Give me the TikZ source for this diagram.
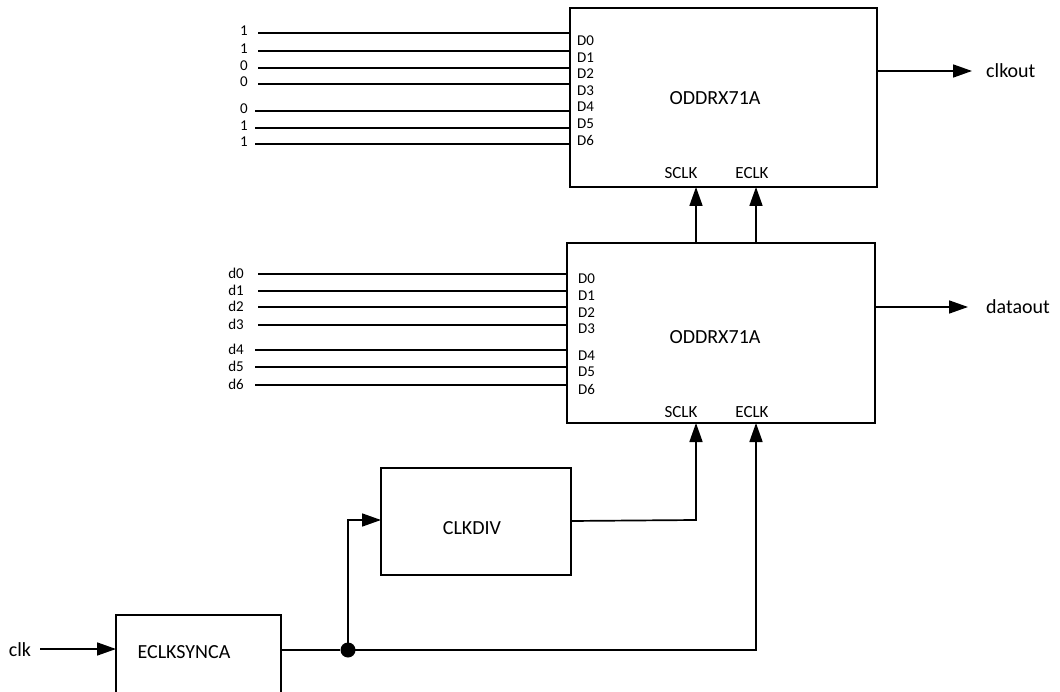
\documentclass[tikz,border=0pt]{standalone}
\usepackage{fontspec}
\setmainfont{Carlito}
\usetikzlibrary{arrows.meta}
\tikzset{
  blockbox/.style={draw, line width=1.5pt, inner sep=0pt, outer sep=0pt, anchor=north west},
  wire/.style={line width=1.7pt},
  arrowwire/.style={line width=1.7pt, -{Triangle[length=19pt,width=13pt]}},
  pinlbl/.style={font=\fontsize{15}{15}\selectfont, inner sep=0pt, anchor=west},
  inlbl/.style={font=\fontsize{15}{15}\selectfont, inner sep=0pt},
  biglbl/.style={font=\fontsize{20}{20}\selectfont, inner sep=0pt},
  clklbl/.style={font=\fontsize{17}{17}\selectfont, inner sep=0pt},
  jdot/.style={circle, fill=black, inner sep=0pt, minimum size=15pt}
}
\begin{document}
\begin{tikzpicture}[x=1pt,y=-1pt]
\useasboundingbox (0,0) rectangle (1060,692);
\clip (0,0) rectangle (1060,692);
% blocks
\node[blockbox, minimum width=307pt, minimum height=179pt] (top) at (570,8) {};
\node[blockbox, minimum width=308pt, minimum height=180pt] (mid) at (567,243) {};
\node[blockbox, minimum width=190pt, minimum height=107pt] (div) at (381,468) {};
\node[blockbox, minimum width=165pt, minimum height=110pt] (sync) at (116,615) {};
% titles
\node[biglbl] (toptitle) at (715,98) {ODDRX71A};
\node[biglbl] (midtitle) at (715,337) {ODDRX71A};
\node[biglbl] (divtitle) at (472,528) {CLKDIV};
\node[biglbl] (synctitle) at (184,652) {ECLKSYNCA};
% clock pin labels
\node[clklbl] (tsclk) at (681,173) {SCLK};
\node[clklbl] (teclk) at (752,173) {ECLK};
\node[clklbl] (msclk) at (681,412) {SCLK};
\node[clklbl] (meclk) at (752,412) {ECLK};
% top data inputs
\foreach \i/\ly/\py/\v/\sx in {0/33/41/1/258, 1/51/57.5/1/258, 2/68/74/0/258, 3/84/90.5/0/258, 4/111/107/0/255, 5/128/123.5/1/255, 6/144/140/1/255}{
  \node[inlbl] (tv\i) at (244,\ly-2) {\v};
  \coordinate (ts\i) at (\sx,\ly);
  \coordinate (te\i) at (570,\ly);
  \draw[wire] (ts\i) -- (te\i);
  \node[pinlbl] (tp\i) at (577,\py) {D\i};
}
% mid data inputs
\foreach \i/\ly/\py/\sx in {0/274/279/258, 1/291/296/258, 2/307/313/258, 3/325/329/258, 4/350/356/255, 5/367/372/255, 6/385/389/255}{
  \node[inlbl] (mv\i) at (236,\ly-1) {d\i};
  \coordinate (ms\i) at (\sx,\ly);
  \coordinate (me\i) at (567,\ly);
  \draw[wire] (ms\i) -- (me\i);
  \node[pinlbl] (mp\i) at (578,\py) {D\i};
}
% outputs
\coordinate (clkoutend) at (972,71);
\draw[arrowwire] (top.east |- clkoutend) -- (clkoutend);
\node[biglbl, anchor=west] (clkout) at (986,71) {clkout};
\coordinate (dataoutend) at (968,307);
\draw[arrowwire] (mid.east |- dataoutend) -- (dataoutend);
\node[biglbl, anchor=west] (dataout) at (986,307) {dataout};
% between the ODDR blocks
\draw[arrowwire] (mid.north -| 696,0) -- (top.south -| 696,0);
\draw[arrowwire] (mid.north -| 756,0) -- (top.south -| 756,0);
% clock input
\node[biglbl] (clk) at (20,650) {clk};
\coordinate (clkstart) at (40,649);
\draw[arrowwire] (clkstart) -- (sync.west |- clkstart);
% junction
\node[jdot] (junc) at (348,650) {};
\coordinate (jup) at (348,520);
\draw[wire] (sync.east |- junc) -- (junc);
\draw[arrowwire] (junc.center) -- (jup) -- (div.west |- jup);
\coordinate (divc) at (696,520);
\draw[arrowwire] (div.east |- 0,521) -- (divc) -- (mid.south -| divc);
\coordinate (eclkc) at (756,650);
\draw[arrowwire] (junc.center) -- (eclkc) -- (mid.south -| eclkc);
\end{tikzpicture}
\end{document}
